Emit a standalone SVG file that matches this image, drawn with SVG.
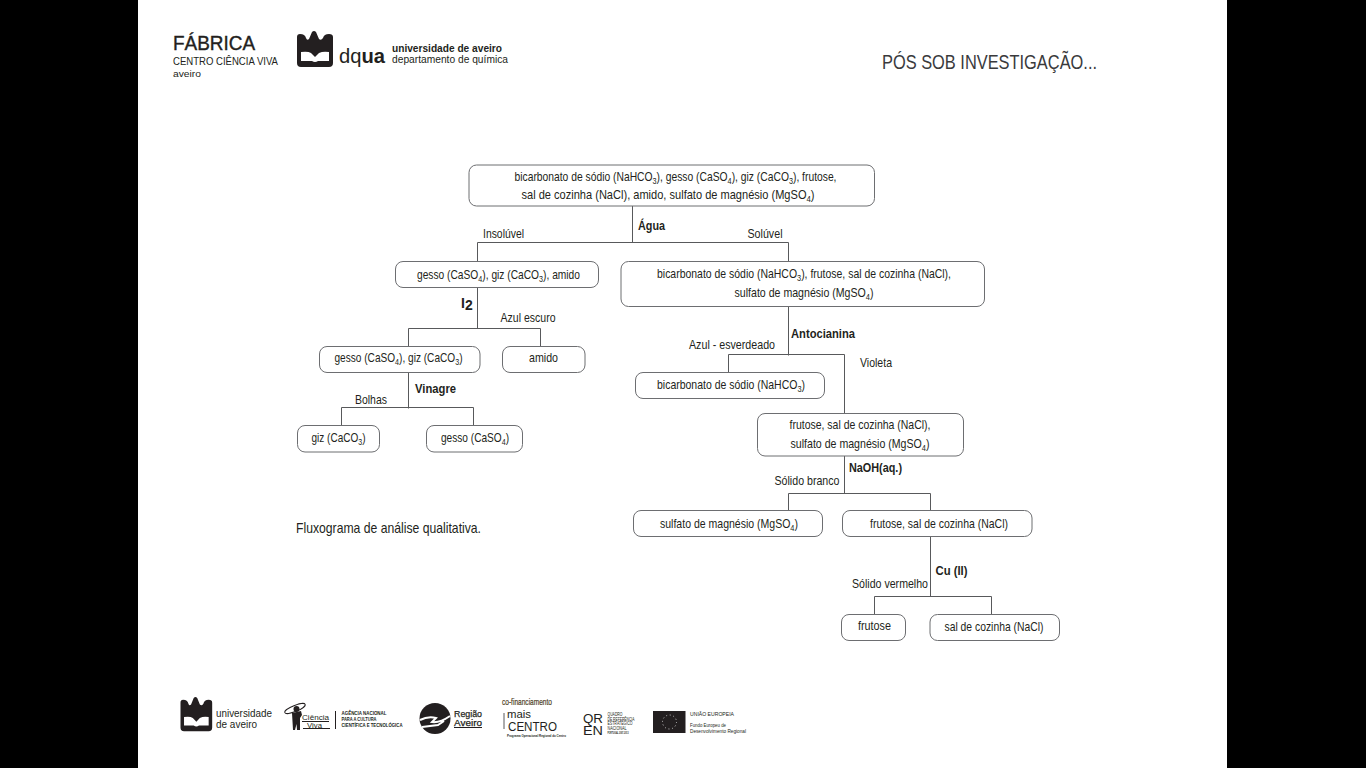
<svg xmlns="http://www.w3.org/2000/svg" xmlns:xlink="http://www.w3.org/1999/xlink" width="1366" height="768" viewBox="0 0 1366 768">
<style>
text{font-family:"Liberation Sans",Arial,sans-serif;fill:#231f20;font-size:13.500px}
.m{text-anchor:middle}
.b{font-weight:bold}
.n rect{fill:#fff;stroke:#6d6e71;stroke-width:1;rx:7.500px;ry:7.500px}
#connectors path{fill:none;stroke:#58595b;stroke-width:1}
.s{font-size:9.500px}
.k{fill:#231f20}
.l{fill:none;stroke:#231f20;stroke-width:1}
.t5{font-size:5px}
.t4{font-size:4px}
</style>
<defs>
<g id="crest">
<path class="k" d="M0 6Q0 3 3 3Q8 3 9 7Q10 10 12 8L15 1Q17 -1 19 1L22 8Q24 10 26 7Q27 3 32 3Q36 3 36 6V32Q36 36 32 36H4Q0 36 0 32Z"/>
<path fill="#fff" d="M4 21Q11 20 14 22L18 26L22 22Q26 20 32 21V30H21Q18 32 15 30H4Z"/>
</g>
</defs>
<rect width="1366" height="768" fill="#fff"/>
<rect x="0" y="0" width="138" height="768" fill="#000"/>
<rect x="1227" y="0" width="139" height="768" fill="#000"/>

<g id="connectors">
<path d="M632.500 206V242.500M477.500 261.500V242.500H788.500V261.500"/>
<path d="M477.500 287.500V328.500M408.500 346.500V328.500H540.500V346.500"/>
<path d="M408.500 372.500V408.500M341.500 425.500V407.500H473.500V425.500"/>
<path d="M788.500 306.500V355.500M728.500 372.500V354.500H844.500V413.500"/>
<path d="M844.500 456V493.500M788.500 510.500V493.500H930.500V510.500"/>
<path d="M930.500 536.500V596.500M874.500 614.500V596.500H991.500V614.500"/>
</g>

<g id="n1" class="n"><rect x="469" y="165" width="405.500" height="41"/>
<text class="m" x="675.500" y="181" textLength="322" lengthAdjust="spacingAndGlyphs">bicarbonato de sódio (NaHCO<tspan class="s" dy="3">3</tspan><tspan dy="-3">), gesso (CaSO</tspan><tspan class="s" dy="3">4</tspan><tspan dy="-3">), giz (CaCO</tspan><tspan class="s" dy="3">3</tspan><tspan dy="-3">), frutose,</tspan></text>
<text class="m" x="668" y="199" textLength="293" lengthAdjust="spacingAndGlyphs">sal de cozinha (NaCl), amido, sulfato de magnésio (MgSO<tspan class="s" dy="3">4</tspan><tspan dy="-3">)</tspan></text></g>

<g id="n2" class="n"><rect x="395.500" y="261.500" width="203" height="26"/>
<text class="m" x="498.500" y="278.500" textLength="163" lengthAdjust="spacingAndGlyphs">gesso (CaSO<tspan class="s" dy="3">4</tspan><tspan dy="-3">), giz (CaCO</tspan><tspan class="s" dy="3">3</tspan><tspan dy="-3">), amido</tspan></text></g>

<g id="n3" class="n"><rect x="621" y="261.500" width="363.500" height="45"/>
<text class="m" x="804" y="278" textLength="294" lengthAdjust="spacingAndGlyphs">bicarbonato de sódio (NaHCO<tspan class="s" dy="3">3</tspan><tspan dy="-3">), frutose, sal de cozinha (NaCl),</tspan></text>
<text class="m" x="804" y="297" textLength="139" lengthAdjust="spacingAndGlyphs">sulfato de magnésio (MgSO<tspan class="s" dy="3">4</tspan><tspan dy="-3">)</tspan></text></g>

<g id="n4" class="n"><rect x="319.500" y="346.500" width="160.500" height="26"/>
<text class="m" x="398.500" y="362" textLength="128" lengthAdjust="spacingAndGlyphs">gesso (CaSO<tspan class="s" dy="3">4</tspan><tspan dy="-3">), giz (CaCO</tspan><tspan class="s" dy="3">3</tspan><tspan dy="-3">)</tspan></text></g>

<g id="n5" class="n"><rect x="502.500" y="346.500" width="82.500" height="26"/>
<text class="m" x="543.500" y="362" textLength="29" lengthAdjust="spacingAndGlyphs">amido</text></g>

<g id="n6" class="n"><rect x="297.500" y="425.500" width="82" height="26.500"/>
<text class="m" x="338.500" y="442" textLength="54" lengthAdjust="spacingAndGlyphs">giz (CaCO<tspan class="s" dy="3">3</tspan><tspan dy="-3">)</tspan></text></g>

<g id="n7" class="n"><rect x="426.500" y="425.500" width="96" height="26.500"/>
<text class="m" x="475" y="442" textLength="68" lengthAdjust="spacingAndGlyphs">gesso (CaSO<tspan class="s" dy="3">4</tspan><tspan dy="-3">)</tspan></text></g>

<g id="n8" class="n"><rect x="635.500" y="372.500" width="189" height="26"/>
<text class="m" x="731" y="389" textLength="148" lengthAdjust="spacingAndGlyphs">bicarbonato de sódio (NaHCO<tspan class="s" dy="3">3</tspan><tspan dy="-3">)</tspan></text></g>

<g id="n9" class="n"><rect x="757.500" y="413.500" width="206" height="42.500"/>
<text class="m" x="860" y="429" textLength="141" lengthAdjust="spacingAndGlyphs">frutose, sal de cozinha (NaCl),</text>
<text class="m" x="860" y="448" textLength="139" lengthAdjust="spacingAndGlyphs">sulfato de magnésio (MgSO<tspan class="s" dy="3">4</tspan><tspan dy="-3">)</tspan></text></g>

<g id="n10" class="n"><rect x="633.500" y="510.500" width="189" height="26"/>
<text class="m" x="729" y="527.500" textLength="138" lengthAdjust="spacingAndGlyphs">sulfato de magnésio (MgSO<tspan class="s" dy="3">4</tspan><tspan dy="-3">)</tspan></text></g>

<g id="n11" class="n"><rect x="842.500" y="510.500" width="189.500" height="26"/>
<text class="m" x="939" y="527.500" textLength="138" lengthAdjust="spacingAndGlyphs">frutose, sal de cozinha (NaCl)</text></g>

<g id="n12" class="n"><rect x="841.500" y="614.500" width="64" height="26"/>
<text class="m" x="874.500" y="630" textLength="33" lengthAdjust="spacingAndGlyphs">frutose</text></g>

<g id="n13" class="n"><rect x="930" y="614.500" width="129.500" height="26"/>
<text class="m" x="994" y="631" textLength="99" lengthAdjust="spacingAndGlyphs">sal de cozinha (NaCl)</text></g>

<g id="labels">
<text x="483" y="238" textLength="41" lengthAdjust="spacingAndGlyphs">Insolúvel</text>
<text class="b" x="638" y="230" textLength="27" lengthAdjust="spacingAndGlyphs">Água</text>
<text x="747.500" y="238" textLength="35" lengthAdjust="spacingAndGlyphs">Solúvel</text>
<text class="b" x="461" y="308" style="font-size:14px">I<tspan dy="2">2</tspan></text>
<text x="500.500" y="322" textLength="55" lengthAdjust="spacingAndGlyphs">Azul escuro</text>
<text class="b" x="415" y="393" textLength="41" lengthAdjust="spacingAndGlyphs">Vinagre</text>
<text x="355" y="404" textLength="32" lengthAdjust="spacingAndGlyphs">Bolhas</text>
<text class="b" x="791" y="338" textLength="64" lengthAdjust="spacingAndGlyphs">Antocianina</text>
<text x="689" y="349" textLength="86" lengthAdjust="spacingAndGlyphs">Azul - esverdeado</text>
<text x="860" y="367" textLength="32" lengthAdjust="spacingAndGlyphs">Violeta</text>
<text class="b" x="849" y="472" textLength="53" lengthAdjust="spacingAndGlyphs">NaOH(aq.)</text>
<text x="774.500" y="485" textLength="65" lengthAdjust="spacingAndGlyphs">Sólido branco</text>
<text class="b" x="935.500" y="575" textLength="32" lengthAdjust="spacingAndGlyphs">Cu (II)</text>
<text x="852" y="588" textLength="76" lengthAdjust="spacingAndGlyphs">Sólido vermelho</text>
<text x="296" y="533" style="font-size:15px" textLength="185" lengthAdjust="spacingAndGlyphs">Fluxograma de análise qualitativa.</text>
<text x="882" y="69" style="font-size:21px;fill:#3a3a3c" textLength="215" lengthAdjust="spacingAndGlyphs">PÓS SOB INVESTIGAÇÃO...</text>
</g>

<g id="logo-fabrica">
<text x="173" y="50" style="font-size:21px" stroke="#231f20" stroke-width=".4" textLength="82" lengthAdjust="spacingAndGlyphs">FÁBRICA</text>
<text x="173" y="65" style="font-size:11.500px" textLength="105" lengthAdjust="spacingAndGlyphs">CENTRO CIÊNCIA VIVA</text>
<text x="173" y="77" style="font-size:9.500px" textLength="28" lengthAdjust="spacingAndGlyphs">aveiro</text>
</g>

<g id="logo-dqua">
<use href="#crest" xlink:href="#crest" transform="translate(297 31)"/>
<text x="339" y="63" style="font-size:21px" textLength="46" lengthAdjust="spacingAndGlyphs">dq<tspan class="b">ua</tspan></text>
<text class="b" x="392" y="52" style="font-size:10px" textLength="110" lengthAdjust="spacingAndGlyphs">universidade de aveiro</text>
<text x="392" y="63" style="font-size:10px" textLength="116" lengthAdjust="spacingAndGlyphs">departamento de química</text>
</g>

<g id="logo-ua">
<use href="#crest" xlink:href="#crest" transform="translate(180.500 697) scale(.88 .95)"/>
<text x="216" y="717" style="font-size:10.500px" textLength="56" lengthAdjust="spacingAndGlyphs">universidade</text>
<text x="216" y="728" style="font-size:10.500px" textLength="41" lengthAdjust="spacingAndGlyphs">de aveiro</text>
</g>

<g id="logo-ciencia">
<path class="k" d="M292 713L301 711L302 715L300 718V730H297L296.500 724L295 730H293Z"/>
<ellipse cx="295" cy="708.500" rx="11" ry="3" fill="none" stroke="#231f20" transform="rotate(-22 295 708.500)"/>
<circle cx="296.500" cy="709" r="3" class="k"/>
<text x="302" y="720" style="font-size:8px" textLength="27" lengthAdjust="spacingAndGlyphs">Ciência</text>
<path class="l" d="M302 721.500H329M303 728.500H330"/>
<text x="307" y="727.500" style="font-size:7px" textLength="15" lengthAdjust="spacingAndGlyphs">Viva</text>
<path class="l" d="M335.500 711V729"/>
<text class="b t5" x="341.500" y="715" textLength="45" lengthAdjust="spacingAndGlyphs">AGÊNCIA NACIONAL</text>
<text class="b t5" x="341.500" y="720.500" textLength="35" lengthAdjust="spacingAndGlyphs">PARA A CULTURA</text>
<text class="b t5" x="341.500" y="726.500" textLength="61" lengthAdjust="spacingAndGlyphs">CIENTÍFICA E TECNOLÓGICA</text>
</g>

<g id="logo-regiao">
<circle cx="435" cy="718.500" r="15.500" class="k"/>
<path d="M420 720Q428 716 436 718L432 722Q440 723 450 716M422 727L438 725L444 721" fill="none" stroke="#fff" stroke-width="2"/>
<text x="454" y="716.500" style="font-size:9.500px" stroke="#231f20" stroke-width=".25" textLength="28" lengthAdjust="spacingAndGlyphs">Região</text>
<text x="454" y="726" style="font-size:9.500px" stroke="#231f20" stroke-width=".25" textLength="28" lengthAdjust="spacingAndGlyphs">Aveiro</text>
<path class="l" d="M454 727.500H482"/>
</g>

<g id="logo-centro">
<text x="502" y="705" style="font-size:9.500px;fill:#4a3b1c" stroke="#4a3b1c" stroke-width=".2" textLength="50" lengthAdjust="spacingAndGlyphs">co-financiamento</text>
<path d="M504 713V729" stroke="#58595b" fill="none"/>
<text x="507" y="718" style="font-size:11px" textLength="24" lengthAdjust="spacingAndGlyphs">mais</text>
<text x="508" y="730.500" style="font-size:12px" textLength="49" lengthAdjust="spacingAndGlyphs">CENTRO</text>
<text class="b" x="507" y="736.500" style="font-size:4px" textLength="59" lengthAdjust="spacingAndGlyphs">Programa Operacional Regional do Centro</text>
</g>

<g id="logo-qren">
<text x="583" y="723" style="font-size:13px" textLength="20" lengthAdjust="spacingAndGlyphs">QR</text>
<text x="583" y="734.500" style="font-size:13px" textLength="20" lengthAdjust="spacingAndGlyphs">EN</text>
<text class="t5" x="607.500" y="716" textLength="15" lengthAdjust="spacingAndGlyphs">QUADRO</text>
<text class="t5" x="607.500" y="720.500" textLength="27" lengthAdjust="spacingAndGlyphs">DE REFERÊNCIA</text>
<text class="t5" x="607.500" y="725" textLength="25" lengthAdjust="spacingAndGlyphs">ESTRATÉGICO</text>
<text class="t5" x="607.500" y="729.500" textLength="19" lengthAdjust="spacingAndGlyphs">NACIONAL</text>
<text class="b t4" x="607.500" y="734" textLength="21" lengthAdjust="spacingAndGlyphs">PORTUGAL 2007-2013</text>
</g>

<g id="logo-ue">
<rect x="653" y="711" width="32.500" height="22" class="k"/>
<circle cx="669.500" cy="722" r="7" fill="none" stroke="#ccc" stroke-width="1" stroke-dasharray="1 2.670"/>
<text class="t5" x="690" y="716" textLength="44" lengthAdjust="spacingAndGlyphs">UNIÃO EUROPEIA</text>
<text class="t5" x="690" y="727" textLength="36" lengthAdjust="spacingAndGlyphs">Fundo Europeu de</text>
<text class="t5" x="690" y="733" textLength="56" lengthAdjust="spacingAndGlyphs">Desenvolvimento Regional</text>
</g>
</svg>
